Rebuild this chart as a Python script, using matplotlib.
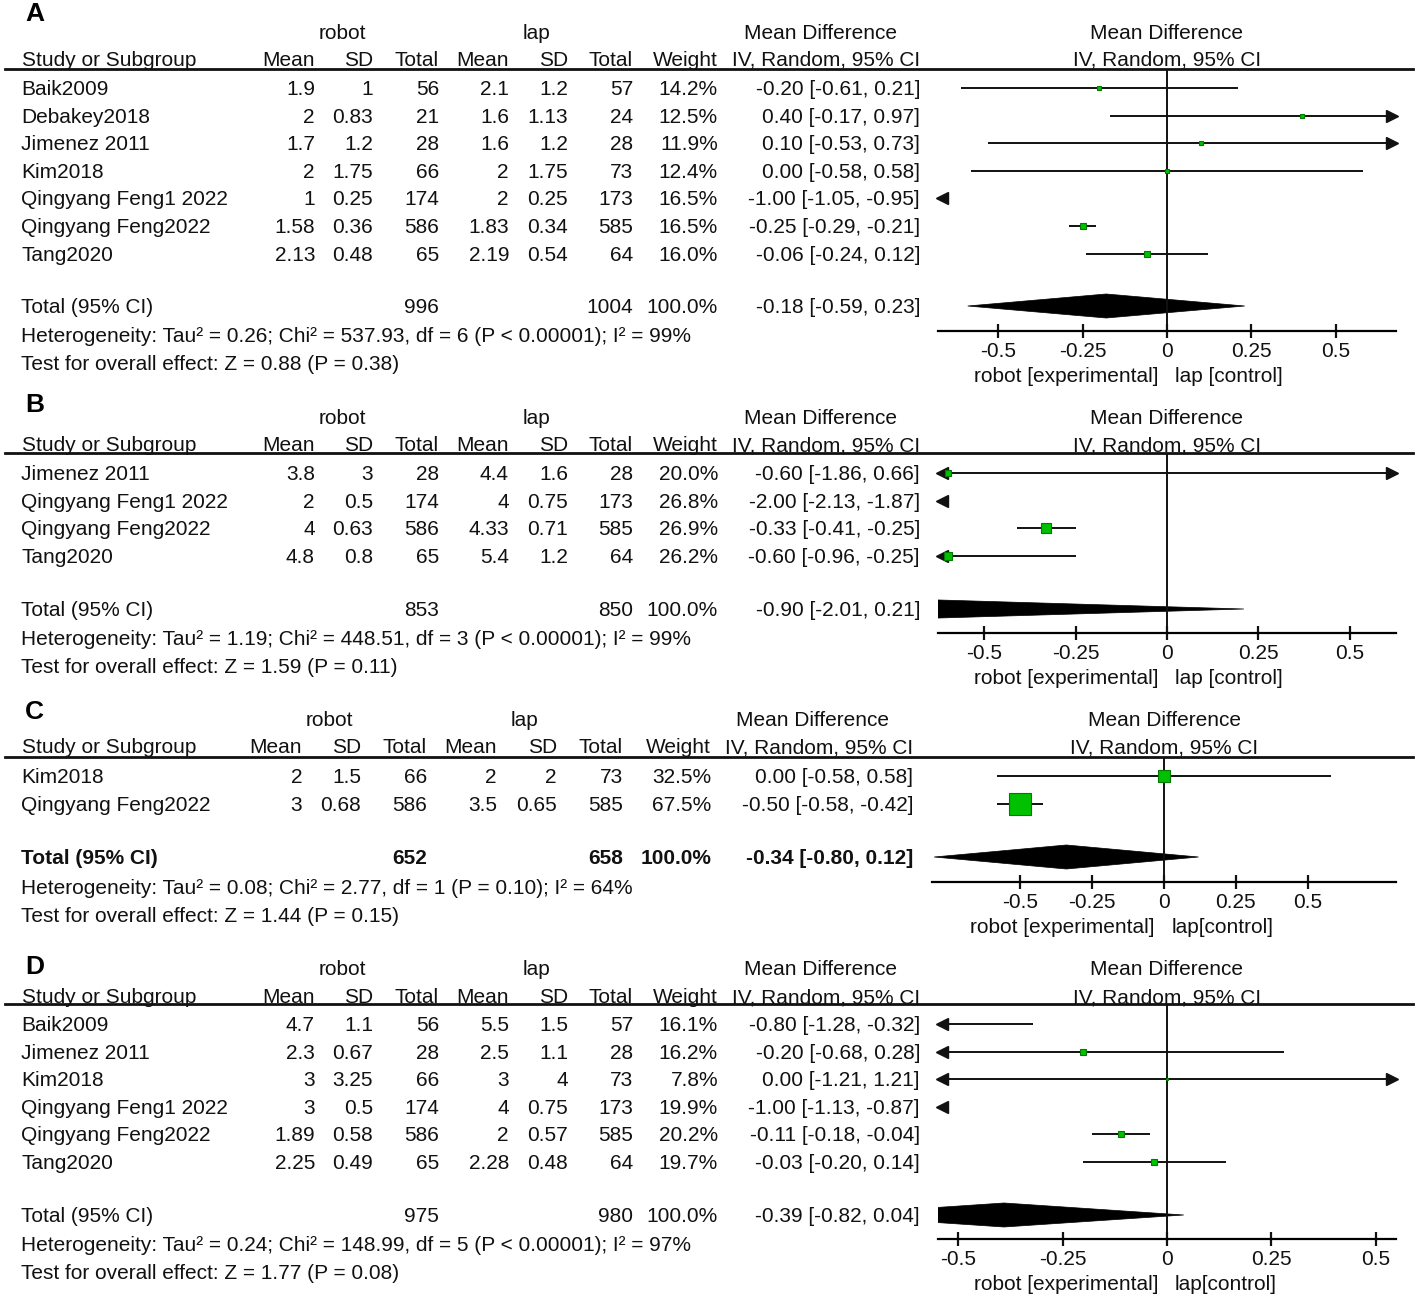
import matplotlib.pyplot as plt
from matplotlib.patches import Polygon

plt.rcParams['font.family'] = ['Liberation Sans', 'DejaVu Sans']

W, H = 1417, 1298
FS = 15
INK = '#111111'
GREEN = '#00c000'

# -----------------------------------------------
# Panel A
# -----------------------------------------------
a_study = ["Baik2009", "Debakey2018", "Jimenez 2011", "Kim2018",
           "Qingyang Feng1 2022", "Qingyang Feng2022", "Tang2020"]
a_robot_mean = [1.9, 2, 1.7, 2, 1, 1.58, 2.13]
a_robot_sd = [1, 0.83, 1.2, 1.75, 0.25, 0.36, 0.48]
a_robot_n = [56, 21, 28, 66, 174, 586, 65]
a_lap_mean = [2.1, 1.6, 1.6, 2, 2, 1.83, 2.19]
a_lap_sd = [1.2, 1.13, 1.2, 1.75, 0.25, 0.34, 0.54]
a_lap_n = [57, 24, 28, 73, 173, 585, 64]
a_weight = [14.2, 12.5, 11.9, 12.4, 16.5, 16.5, 16.0]
a_md = [-0.20, 0.40, 0.10, 0.00, -1.00, -0.25, -0.06]
a_lo = [-0.61, -0.17, -0.53, -0.58, -1.05, -0.29, -0.24]
a_hi = [0.21, 0.97, 0.73, 0.58, -0.95, -0.21, 0.12]
a_total = [996, 1004, -0.18, -0.59, 0.23]
a_het = "Heterogeneity: Tau² = 0.26; Chi² = 537.93, df = 6 (P < 0.00001); I² = 99%"
a_test = "Test for overall effect: Z = 0.88 (P = 0.38)"

# -----------------------------------------------
# Panel B
# -----------------------------------------------
b_study = ["Jimenez 2011", "Qingyang Feng1 2022", "Qingyang Feng2022", "Tang2020"]
b_robot_mean = [3.8, 2, 4, 4.8]
b_robot_sd = [3, 0.5, 0.63, 0.8]
b_robot_n = [28, 174, 586, 65]
b_lap_mean = [4.4, 4, 4.33, 5.4]
b_lap_sd = [1.6, 0.75, 0.71, 1.2]
b_lap_n = [28, 173, 585, 64]
b_weight = [20.0, 26.8, 26.9, 26.2]
b_md = [-0.60, -2.00, -0.33, -0.60]
b_lo = [-1.86, -2.13, -0.41, -0.96]
b_hi = [0.66, -1.87, -0.25, -0.25]
b_total = [853, 850, -0.90, -2.01, 0.21]
b_het = "Heterogeneity: Tau² = 1.19; Chi² = 448.51, df = 3 (P < 0.00001); I² = 99%"
b_test = "Test for overall effect: Z = 1.59 (P = 0.11)"

# -----------------------------------------------
# Panel C
# -----------------------------------------------
c_study = ["Kim2018", "Qingyang Feng2022"]
c_robot_mean = [2, 3]
c_robot_sd = [1.5, 0.68]
c_robot_n = [66, 586]
c_lap_mean = [2, 3.5]
c_lap_sd = [2, 0.65]
c_lap_n = [73, 585]
c_weight = [32.5, 67.5]
c_md = [0.00, -0.50]
c_lo = [-0.58, -0.58]
c_hi = [0.58, -0.42]
c_total = [652, 658, -0.34, -0.80, 0.12]
c_het = "Heterogeneity: Tau² = 0.08; Chi² = 2.77, df = 1 (P = 0.10); I² = 64%"
c_test = "Test for overall effect: Z = 1.44 (P = 0.15)"

# -----------------------------------------------
# Panel D
# -----------------------------------------------
d_study = ["Baik2009", "Jimenez 2011", "Kim2018", "Qingyang Feng1 2022",
           "Qingyang Feng2022", "Tang2020"]
d_robot_mean = [4.7, 2.3, 3, 3, 1.89, 2.25]
d_robot_sd = [1.1, 0.67, 3.25, 0.5, 0.58, 0.49]
d_robot_n = [56, 28, 66, 174, 586, 65]
d_lap_mean = [5.5, 2.5, 3, 4, 2, 2.28]
d_lap_sd = [1.5, 1.1, 4, 0.75, 0.57, 0.48]
d_lap_n = [57, 28, 73, 173, 585, 64]
d_weight = [16.1, 16.2, 7.8, 19.9, 20.2, 19.7]
d_md = [-0.80, -0.20, 0.00, -1.00, -0.11, -0.03]
d_lo = [-1.28, -0.68, -1.21, -1.13, -0.18, -0.20]
d_hi = [-0.32, 0.28, 1.21, -0.87, -0.04, 0.14]
d_total = [975, 980, -0.39, -0.82, 0.04]
d_het = "Heterogeneity: Tau² = 0.24; Chi² = 148.99, df = 5 (P < 0.00001); I² = 97%"
d_test = "Test for overall effect: Z = 1.77 (P = 0.08)"

tick_vals = [-0.5, -0.25, 0, 0.25, 0.5]
tick_labels = ['-0.5', '-0.25', '0', '0.25', '0.5']

panels = [
    dict(tag='A', study=a_study, rm=a_robot_mean, rs=a_robot_sd, rn=a_robot_n,
         lm=a_lap_mean, ls=a_lap_sd, ln=a_lap_n, w=a_weight, md=a_md, lo=a_lo, hi=a_hi,
         total=a_total, het=a_het, test=a_test, ctrl="lap [control]"),
    dict(tag='B', study=b_study, rm=b_robot_mean, rs=b_robot_sd, rn=b_robot_n,
         lm=b_lap_mean, ls=b_lap_sd, ln=b_lap_n, w=b_weight, md=b_md, lo=b_lo, hi=b_hi,
         total=b_total, het=b_het, test=b_test, ctrl="lap [control]"),
    dict(tag='C', study=c_study, rm=c_robot_mean, rs=c_robot_sd, rn=c_robot_n,
         lm=c_lap_mean, ls=c_lap_sd, ln=c_lap_n, w=c_weight, md=c_md, lo=c_lo, hi=c_hi,
         total=c_total, het=c_het, test=c_test, ctrl="lap[control]"),
    dict(tag='D', study=d_study, rm=d_robot_mean, rs=d_robot_sd, rn=d_robot_n,
         lm=d_lap_mean, ls=d_lap_sd, ln=d_lap_n, w=d_weight, md=d_md, lo=d_lo, hi=d_hi,
         total=d_total, het=d_het, test=d_test, ctrl="lap[control]"),
]

# pixel layout of each panel (table columns, rows, forest region)
cols_wide = dict(name=21, rm=315, rs=373, rn=439, lm=509, ls=568, ln=633, w=718, md=920,
                 robot=342, lap=536, mdh=820)
cols_c = dict(name=21, rm=302, rs=361, rn=427, lm=497, ls=557, ln=623, w=711, md=913,
              robot=329, lap=525, mdh=812)
layouts = [
    dict(letter=14, h1=32, h2=59, line=69, row0=88, total=306, het=335, test=363,
         axis=331, fx0=938, fx1=1396, zero=1167, half=0.678, cols=cols_wide, bold=False),
    dict(letter=405, h1=417, h2=444, line=453, row0=473, total=609, het=638, test=666,
         axis=633, fx0=938, fx1=1396, zero=1167, half=0.626, cols=cols_wide, bold=False),
    dict(letter=712, h1=719, h2=746, line=757, row0=776, total=857, het=887, test=915,
         axis=882, fx0=932, fx1=1396, zero=1164, half=0.8075, cols=cols_c, bold=True),
    dict(letter=967, h1=968, h2=996, line=1004, row0=1024, total=1215, het=1244, test=1272,
         axis=1239, fx0=938, fx1=1396, zero=1167, half=0.548, cols=cols_wide, bold=False),
]
ROW = 27.6


def txt(ax, x, y, s, ha='left', weight='normal', size=FS):
    # y is the visual centre of the digits; shift to baseline
    ax.text(x, y + 7, s, ha=ha, va='baseline', fontsize=size, color=INK,
            fontweight=weight)


fig = plt.figure(figsize=(W / 100, H / 100), dpi=100)
bg = fig.add_axes([0, 0, 1, 1])
bg.set_xlim(0, W)
bg.set_ylim(H, 0)
bg.axis('off')

for p, L in zip(panels, layouts):
    c = L['cols']
    bg.text(25, L['letter'], p['tag'], fontsize=19, fontweight='bold', va='center',
            ha='left', color='black', family=['Liberation Sans'])

    # headers
    txt(bg, c['robot'], L['h1'], "robot", ha='center')
    txt(bg, c['lap'], L['h1'], "lap", ha='center')
    txt(bg, c['mdh'], L['h1'], "Mean Difference", ha='center')
    txt(bg, L['zero'], L['h1'], "Mean Difference", ha='center')
    txt(bg, c['name'] + 1, L['h2'], "Study or Subgroup")
    for key, lab in [('rm', 'Mean'), ('rs', 'SD'), ('rn', 'Total'), ('lm', 'Mean'),
                     ('ls', 'SD'), ('ln', 'Total'), ('w', 'Weight')]:
        txt(bg, c[key], L['h2'], lab, ha='right')
    txt(bg, c['md'], L['h2'], "IV, Random, 95% CI", ha='right')
    txt(bg, L['zero'], L['h2'], "IV, Random, 95% CI", ha='center')
    bg.plot([5, 1413], [L['line'], L['line']], color=INK, lw=2)

    # study rows
    for i, name in enumerate(p['study']):
        y = L['row0'] + i * ROW
        txt(bg, c['name'], y, name)
        for key in ['rm', 'rs', 'rn', 'lm', 'ls', 'ln']:
            txt(bg, c[key], y, f"{p[key][i]:g}", ha='right')
        txt(bg, c['w'], y, f"{p['w'][i]:.1f}%", ha='right')
        txt(bg, c['md'], y, f"{p['md'][i]:.2f} [{p['lo'][i]:.2f}, {p['hi'][i]:.2f}]",
            ha='right')

    # total rows
    tw = 'bold' if L['bold'] else 'normal'
    t = p['total']
    txt(bg, c['name'], L['total'], "Total (95% CI)", weight=tw)
    txt(bg, c['rn'], L['total'], f"{t[0]}", ha='right', weight=tw)
    txt(bg, c['ln'], L['total'], f"{t[1]}", ha='right', weight=tw)
    txt(bg, c['w'], L['total'], "100.0%", ha='right', weight=tw)
    txt(bg, c['md'], L['total'], f"{t[2]:.2f} [{t[3]:.2f}, {t[4]:.2f}]", ha='right',
        weight=tw)
    txt(bg, c['name'], L['het'], p['het'])
    txt(bg, c['name'], L['test'], p['test'])

    # forest plot region
    px_w = L['fx1'] - L['fx0']
    ppu = (L['zero'] - L['fx0']) / L['half']
    lo_lim = -L['half']
    hi_lim = (L['fx1'] - L['zero']) / ppu
    ax = fig.add_axes([L['fx0'] / W, 1 - L['axis'] / H, px_w / W,
                       (L['axis'] - L['line']) / H])
    ax.set_facecolor('none')
    ax.set_xlim(lo_lim, hi_lim)
    ax.set_ylim(L['axis'], L['line'])
    for s in ['top', 'left', 'right']:
        ax.spines[s].set_visible(False)
    ax.spines['bottom'].set_linewidth(1.6)
    ax.set_yticks([])
    ax.set_xticks(tick_vals)
    ax.set_xticklabels(tick_labels)
    ax.tick_params(axis='x', direction='inout', length=10, width=1.6, labelsize=FS,
                   pad=3, colors=INK)
    ax.axvline(0, color=INK, lw=1.4)

    arrow_off = 4 / ppu
    for i in range(len(p['study'])):
        y = L['row0'] + i * ROW
        lo, hi, md = p['lo'][i], p['hi'][i], p['md'][i]
        a, b = max(lo, lo_lim), min(hi, hi_lim)
        if b > a:
            ax.plot([a, b], [y, y], color=INK, lw=1.4, solid_capstyle='butt')
        if lo < lo_lim:
            ax.plot(lo_lim + arrow_off, y, marker='<', color=INK, ms=8, clip_on=False)
        if hi > hi_lim:
            ax.plot(hi_lim - arrow_off, y, marker='>', color=INK, ms=8, clip_on=False)
        if lo_lim <= md <= hi_lim:
            side = 0.34 * p['w'][i] * 0.72
            ax.plot(md, y, marker='s', ms=side, mfc=GREEN, mec='#007a00', mew=0.8,
                    clip_on=False, zorder=5)

    dia = Polygon([(t[3], L['total']), (t[2], L['total'] - 12), (t[4], L['total']),
                   (t[2], L['total'] + 12)], closed=True, fc='black', ec='black', lw=0.5)
    ax.add_patch(dia)

    # favours labels
    lab_y = L['axis'] + 44
    txt(bg, L['zero'] - 9, lab_y, "robot [experimental]", ha='right')
    txt(bg, L['zero'] + 8, lab_y, p['ctrl'], ha='left')

fig.savefig('out.png', dpi=100)
